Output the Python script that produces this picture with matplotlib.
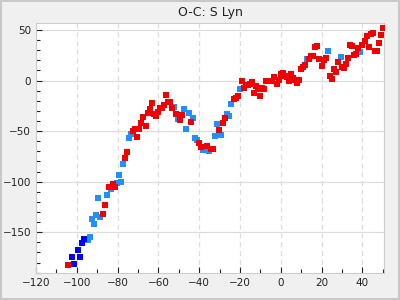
import matplotlib.pyplot as plt
from matplotlib.ticker import MultipleLocator

# O-C values (days) against cycle number (x in units of 1000?)
red_x = [-104.2, -87.0, -86.0, -84.1, -82.1, -81.1, -76.2, -75.3, -72.3, -71.3,
         -70.4, -69.4, -68.4, -67.4, -66.0, -65.0, -64.0, -63.0, -62.0, -61.1,
         -60.1, -59.1, -58.1, -57.1, -56.2, -55.2, -54.2, -53.2, -51.3, -49.3,
         -48.3, -43.9, -40.0, -39.0, -36.1, -34.1, -33.1, -30.2, -28.2, -27.3,
         -22.9, -21.9, -20.9, -18.9, -17.9, -16.9, -16.0, -15.0, -14.0, -13.0,
         -12.0, -11.1, -10.1, -9.1, -8.2, -7.2, -6.2, -4.2, -3.3, -1.8,
         -0.8, 0.2, 1.1, 2.1, 3.1, 4.1, 5.1, 6.0, 7.0, 8.0,
         9.0, 10.0, 10.9, 11.9, 13.9, 14.9, 15.8, 16.8, 17.8, 18.8,
         20.2, 21.2, 22.2, 24.2, 25.1, 26.1, 27.1, 28.1, 30.0, 31.0,
         32.0, 33.0, 33.9, 34.9, 35.9, 36.9, 37.9, 39.8, 41.3, 42.3,
         43.3, 44.2, 45.2, 46.2, 47.2, 48.2, 49.1, 50.1]
red_y = [-182.3, -132.1, -123.3, -105.6, -102.6, -105.6, -77.0, -71.1, -50.2, -47.5,
         -55.4, -47.5, -41.6, -35.7, -44.6, -31.8, -27.9, -22.0, -32.8, -34.8,
         -30.8, -26.9, -26.9, -23.9, -14.1, -21.0, -21.0, -26.9, -32.8, -38.7,
         -33.8, -40.7, -61.3, -66.2, -65.2, -67.2, -67.2, -48.5, -41.6, -36.7,
         -18.0, -17.0, -15.1, -0.3, -7.2, -4.3, -4.3, -3.3, -1.3, -12.1,
         -5.2, -8.2, -15.1, -7.2, -8.2, -0.3, -0.3, -0.3, 3.6, -3.3,
         0.7, 6.6, 7.5, 4.6, 3.6, -0.3, 6.6, 2.6, 0.7, -2.3,
         0.7, 11.5, 13.4, 15.4, 21.3, 24.3, 24.3, 33.1, 34.1, 21.3,
         14.4, 20.3, 22.3, 4.6, 1.6, 11.5, 8.5, 18.4, 13.4, 12.5,
         16.4, 22.3, 35.1, 34.1, 25.2, 26.2, 32.1, 35.1, 39.0, 43.9,
         33.1, 45.9, 46.9, 29.2, 29.2, 37.0, 44.9, 51.8]

lblue_x = [-94.4, -93.4, -92.4, -91.4, -90.4, -89.5, -88.5, -85.1, -83.1, -80.2,
           -79.2, -78.2, -77.2, -74.3, -73.3, -52.2, -50.3, -47.3, -46.4, -44.9,
           -43.0, -42.0, -41.0, -38.0, -35.1, -32.2, -31.2, -29.2, -26.3, -25.3,
           -24.3, -19.9, 12.9, 23.3, 29.3, 39.0]
lblue_y = [-157.7, -154.8, -137.0, -142.0, -133.1, -116.4, -135.1, -113.4, -107.5, -101.6,
           -93.8, -100.7, -83.0, -56.4, -52.5, -25.9, -37.7, -27.9, -47.5, -31.8,
           -36.7, -56.4, -58.4, -68.2, -69.2, -54.4, -42.6, -53.4, -32.8, -34.8,
           -23.0, -8.2, 21.3, 29.2, 23.3, 28.2]

dblue_x = [-102.2, -101.2, -99.3, -98.3, -97.3, -96.3]
dblue_y = [-174.4, -181.3, -167.5, -174.4, -160.7, -156.7]

fig = plt.figure(figsize=(4, 3), dpi=100, facecolor='#f0f0f0',
                 edgecolor='#c8c8c8', linewidth=1.5)
ax = fig.add_axes([0.09, 0.091, 0.87, 0.831])

ax.scatter(lblue_x, lblue_y, s=14, marker='s', color='#1e90ff', linewidths=0, zorder=3)
ax.scatter(dblue_x, dblue_y, s=14, marker='s', color='#0000ff', linewidths=0, zorder=3)
ax.scatter(red_x, red_y, s=14, marker='s', color='#f00000', linewidths=0, zorder=4)

ax.set_xlim(-120, 50.6)
ax.set_ylim(-190, 56.5)
ax.xaxis.set_major_locator(MultipleLocator(20))
ax.xaxis.set_minor_locator(MultipleLocator(10))
ax.yaxis.set_major_locator(MultipleLocator(50))
ax.yaxis.set_minor_locator(MultipleLocator(10))

ax.tick_params(which='both', direction='in', top=False, right=False,
               colors='#222222', labelsize=7.5, width=0.8)
ax.tick_params(which='major', length=4)
ax.tick_params(which='minor', length=3)

ax.grid(True, axis='x', which='major', color='#dddddd', linestyle=(0, (4, 3)), linewidth=0.9)
ax.grid(True, axis='y', which='major', color='#dddddd', linestyle='-', linewidth=0.9)
ax.set_axisbelow(True)

for sp in ax.spines.values():
    sp.set_color('#cccccc')

ax.set_title('O-C: S Lyn', fontsize=9, color='#222222', pad=5)

fig.savefig('out.png', dpi=100, facecolor=fig.get_facecolor(), edgecolor=fig.get_edgecolor())
